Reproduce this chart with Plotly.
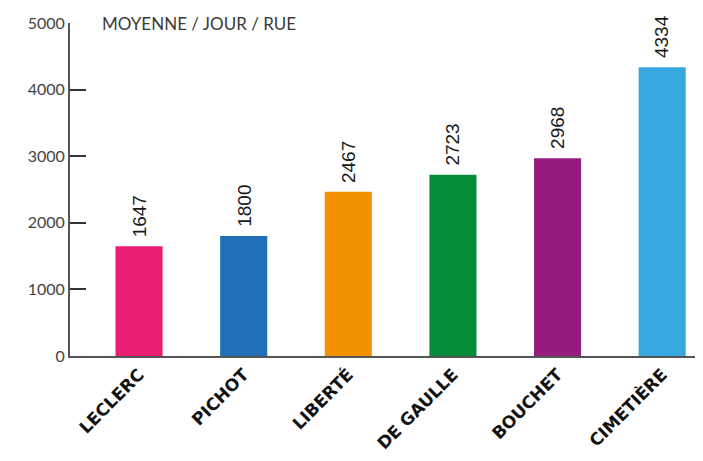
import plotly.graph_objects as go

categories = ["LECLERC", "PICHOT", "LIBERTÉ", "DE GAULLE", "BOUCHET", "CIMETIÈRE"]
values = [1647, 1800, 2467, 2723, 2968, 4334]
colors = ["#E91E73", "#1F70B6", "#F39200", "#058C38", "#951B7E", "#38A8E0"]
y_ticks = [0, 1000, 2000, 3000, 4000, 5000]
title_text = "MOYENNE / JOUR / RUE"

fig = go.Figure()
fig.add_trace(go.Bar(
    x=list(range(len(categories))),
    y=values,
    marker=dict(color=colors, line=dict(width=0)),
    width=0.45,
    hoverinfo="skip",
))

for i, v in enumerate(values):
    fig.add_annotation(
        x=i, y=v, xref="x", yref="y",
        text=str(v), showarrow=False,
        textangle=-90, yanchor="bottom", xanchor="center",
        yshift=7,
        font=dict(family="Liberation Sans", size=19, color="#1a1a1a"),
    )

fig.add_annotation(
    x=0, y=5000, xref="paper", yref="y", xshift=30,
    text=title_text, showarrow=False,
    xanchor="left", yanchor="middle",
    font=dict(family="Lato", size=17, color="#3a3a3a"),
)

fig.update_layout(
    width=695, height=453,
    margin=dict(l=62, r=0, t=15, b=105),
    plot_bgcolor="white", paper_bgcolor="white",
    showlegend=False,
)
fig.update_xaxes(
    tickmode="array",
    tickvals=list(range(len(categories))),
    ticktext=categories,
    range=[-0.66, 5.39],
    tickangle=-45,
    tickfont=dict(family="DejaVu Sans", size=17, color="#111111", weight="bold"),
    showline=True, linecolor="#555555", linewidth=2,
    ticks="", showgrid=False, zeroline=False,
)
fig.update_yaxes(
    range=[0, 5000],
    tickvals=y_ticks,
    ticks="inside", ticklen=16, tickwidth=1.5, tickcolor="#333333",
    showline=True, linecolor="#555555", linewidth=2,
    tickfont=dict(family="Lato", size=16, color="#444444"),
    showgrid=False, zeroline=False,
)

fig.write_html("out.html")
